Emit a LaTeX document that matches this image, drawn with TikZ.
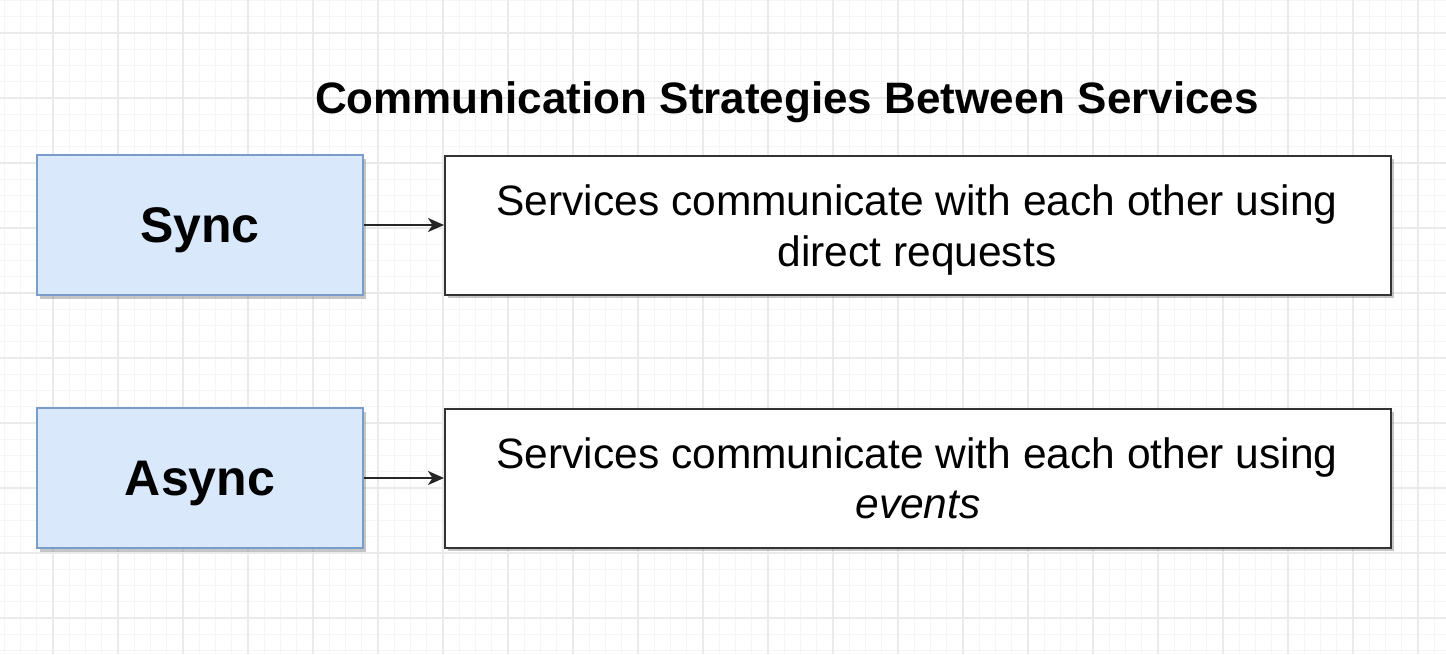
\documentclass[tikz,border=0pt]{standalone}
\usepackage{fontspec}
\setmainfont{Liberation Sans}
\usetikzlibrary{shadows,arrows.meta}
\definecolor{gridminor}{HTML}{F5F5F5}
\definecolor{gridmajor}{HTML}{EAEAEA}
\definecolor{bluefill}{HTML}{DAE8FC}
\definecolor{blueline}{HTML}{7A9CCB}
\tikzset{
  shade/.style={drop shadow={shadow xshift=3pt, shadow yshift=-3.5pt, opacity=0.45, fill=gray}},
  leftbox/.style={shade, draw=blueline, fill=bluefill, line width=2pt, minimum width=326pt, minimum height=140pt, inner sep=0pt},
  rightbox/.style={shade, draw=black!80, fill=white, line width=2pt, minimum width=946pt, minimum height=139pt, inner sep=0pt},
  boxlabel/.style={anchor=base, inner sep=0pt, font=\bfseries\fontsize{50}{60}\selectfont},
  desc/.style={anchor=base, inner sep=0pt, font=\fontsize{42.5}{50}\selectfont},
  titletext/.style={anchor=base, inner sep=0pt, font=\bfseries\fontsize{44}{52}\selectfont},
  conn/.style={draw=black!85, line width=2pt, -{Stealth[length=16pt,width=14pt,inset=4.5pt]}},
}
\begin{document}
\begin{tikzpicture}[x=1pt,y=-1pt]
\useasboundingbox (0,0) rectangle (1446,654);
\fill[white] (0,0) rectangle (1446,654);
% grid
\foreach \x in {4.25,20.5,...,1446} \draw[gridminor, line width=1pt] (\x,0) -- (\x,654);
\foreach \y in {0.5,16.75,...,654} \draw[gridminor, line width=1pt] (0,\y) -- (1446,\y);
\foreach \x in {53,118,...,1446} \draw[gridmajor, line width=1.2pt] (\x,0) -- (\x,654);
\foreach \y in {33,98,...,654} \draw[gridmajor, line width=1.2pt] (0,\y) -- (1446,\y);
% title
\node[titletext] (title) at (787,113) {Communication Strategies Between Services};
% boxes
\node[leftbox] (sync) at (200,225) {};
\node[leftbox] (async) at (200,478) {};
\node[rightbox] (r1) at (918,225) {};
\node[rightbox] (r2) at (918,478) {};
% labels
\node[boxlabel] (synct) at (200,242) {Sync};
\node[boxlabel] (asynct) at (200,495) {Async};
\node[desc] (r1a) at (917,215) {Services communicate with each other using};
\node[desc] (r1b) at (917,266) {direct requests};
\node[desc] (r2a) at (917,468) {Services communicate with each other using};
\node[desc] (r2b) at (918,518) {\itshape events};
% connectors
\draw[conn] (sync.east) -- (r1.west);
\draw[conn] (async.east) -- (r2.west);
\end{tikzpicture}
\end{document}
